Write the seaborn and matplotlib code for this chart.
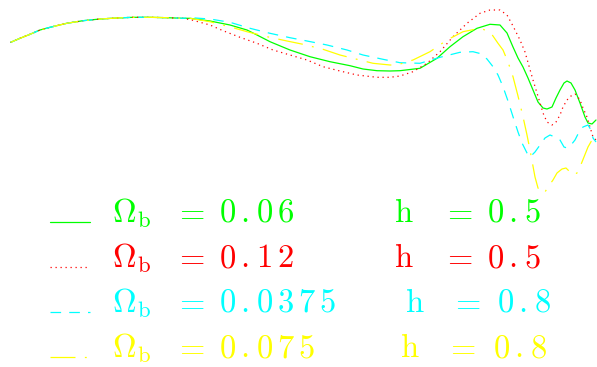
import numpy as np
import pandas as pd
import matplotlib
matplotlib.use("Agg")
import matplotlib.pyplot as plt
import seaborn as sns

# ------------------------------------------------------------
# curves (y grows downward)
# ------------------------------------------------------------

common_x = [10.7, 20, 30, 40, 50, 66.7, 83, 100, 117, 133, 150, 167, 183]
common_y = [42.3, 38.3, 34.3, 30, 27.3, 23.3, 20.7, 19, 18, 17.3, 17.3, 17.7, 18.3]

green_x = [190, 210, 230, 247, 257, 270, 290, 310, 330, 350, 363, 377, 390, 400,
           420, 437, 450, 463, 477, 490, 500, 507, 513, 518, 523, 528, 533, 538,
           543, 547, 552, 556, 560, 564, 567, 571, 575, 580, 585, 588, 592, 596]
green_y = [18.3, 21, 25, 30, 35, 41.7, 50, 56.7, 61.7, 65.7, 69, 70.7, 71, 70.7,
           68.3, 58.3, 46.7, 36.7, 28.3, 24.3, 25, 33, 47, 58, 67, 78, 90, 102,
           108, 109, 107, 98, 90, 83, 81, 83, 90, 103, 117, 123, 124, 120]

red_x = [193, 210, 223, 240, 257, 273, 290, 307, 323, 340, 357, 377, 390, 400,
         413, 427, 440, 453, 467, 480, 490, 500, 507, 513, 520, 525, 529, 533,
         537, 540, 543, 547, 552, 556, 560, 563, 567, 571, 575, 577, 580, 583,
         587, 590, 593, 596]
red_y = [20.3, 25, 30.7, 37.3, 43.3, 50, 55, 60, 66.7, 71, 75, 77.3, 77.3, 76,
         71.7, 63.3, 51.7, 36.7, 23.3, 13.3, 10, 10, 15, 26, 40, 52, 66, 80,
         93, 103, 113, 122, 125, 122, 115, 107, 100, 96, 94, 96, 100, 108,
         117, 127, 137, 140]

cyan_x = [190, 210, 230, 250, 270, 290, 307, 327, 347, 363, 383, 400, 420, 440,
          460, 473, 480, 487, 493, 498, 503, 508, 513, 518, 522, 527, 530, 535,
          540, 545, 550, 555, 560, 564, 567, 571, 575, 579, 583, 588, 591, 593, 596]
cyan_y = [17.7, 19, 22.3, 28.3, 33.3, 37.7, 41, 45, 50, 55, 59.3, 62.7, 63.3, 57.3,
          52.3, 51.7, 53.5, 59, 66.7, 75, 86.7, 101, 116.7, 132, 143, 153, 157, 152,
          145, 138, 135, 137, 140, 147, 148, 145, 140, 132, 127, 125, 130, 138, 142]

yellow_x = [190, 210, 233, 247, 267, 287, 303, 323, 340, 357, 373, 390, 397, 413,
            430, 447, 463, 480, 490, 498, 503, 508, 513, 518, 523, 527, 530, 535,
            538, 542, 545, 548, 553, 557, 562, 566, 570, 573, 577, 580, 584, 588,
            592, 596]
yellow_y = [18.3, 21.7, 27.7, 31.7, 36.7, 41, 44.3, 49.3, 55, 59.3, 63.3, 65, 65, 60,
            51.7, 40, 31.7, 28.3, 31.7, 43.3, 50, 62, 76.7, 96, 116.7, 135, 150, 177,
            188, 193, 192, 187, 180, 173, 169, 168, 172, 175, 173, 167, 157, 147,
            140, 134]

omega_b = ["0.06", "0.12", "0.0375", "0.075"]
hubble = ["0.5", "0.5", "0.8", "0.8"]
colors = ["#00ff00", "#ff0000", "#00ffff", "#ffff00"]
styles = ["-", (0, (1, 3)), (0, (8.5, 6.5)), (0, (20, 7.5, 1.5, 7.5))]

series = [(green_x, green_y), (red_x, red_y), (cyan_x, cyan_y), (yellow_x, yellow_y)]

# ------------------------------------------------------------
# figure
# ------------------------------------------------------------

sns.set_style("white")
plt.rcParams["mathtext.fontset"] = "cm"
plt.rcParams["font.family"] = ["DejaVu Serif", "DejaVu Sans"]

fig = plt.figure(figsize=(5.97, 3.67), dpi=100)
ax = fig.add_axes([0, 0, 1, 1])

for (sx, sy), col, ls in zip(series, colors, styles):
    df = pd.DataFrame({"x": common_x + sx, "y": common_y + sy})
    sns.lineplot(data=df, x="x", y="y", color=col, linestyle=ls, lw=0.9,
                 sort=False, ax=ax)

ax.set_xlim(0, 597)
ax.set_ylim(367, 0)
ax.axis("off")

# legend block
baselines = [222, 267, 312, 357]
h_x = [394, 394, 405, 400]
eq2_x = [442, 442, 450, 445]
num2_x = [487, 487, 497, 493]
fs = 23.5


def spaced(x, y, s, color):
    # numbers drawn with wide character spacing like the original
    for ch in s:
        ax.text(x, y, "$\\mathrm{%s}$" % ch, color=color, fontsize=fs,
                ha="left", va="baseline")
        x += 16 if ch == "." else 21


for i in range(4):
    yb = baselines[i]
    c = colors[i]
    ax.plot([50, 90], [yb, yb], color=c, linestyle=styles[i], lw=0.9)
    ax.text(112, yb, r"$\Omega_\mathrm{b}$", color=c, fontsize=fs, ha="left", va="baseline")
    ax.text(174, yb, r"$=$", color=c, fontsize=fs, ha="left", va="baseline")
    spaced(219, yb, omega_b[i], c)
    ax.text(h_x[i], yb, r"$\mathrm{h}$", color=c, fontsize=fs, ha="left", va="baseline")
    ax.text(eq2_x[i], yb, r"$=$", color=c, fontsize=fs, ha="left", va="baseline")
    spaced(num2_x[i], yb, hubble[i], c)

fig.savefig("out.png", dpi=100)
plt.close(fig)
